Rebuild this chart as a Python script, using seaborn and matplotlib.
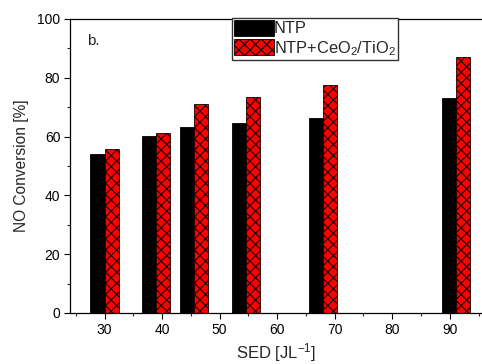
import matplotlib
matplotlib.use("Agg")
import matplotlib.pyplot as plt
import seaborn as sns
import pandas as pd
from matplotlib.patches import Patch
from matplotlib.ticker import MultipleLocator

# Specific energy density (J/L) and NO conversion (%) for each configuration
sed = [30, 39, 45.5, 54.6, 68, 91]
ntp = [54.1, 60.2, 63.4, 64.6, 66.2, 73.2]
ntp_cat = [55.7, 61.1, 71.0, 73.5, 77.6, 87.2]
series = ["NTP", "NTP+CeO$_2$/TiO$_2$"]

df = pd.DataFrame({
    "sed": sed * 2,
    "conv": ntp + ntp_cat,
    "series": [series[0]] * len(sed) + [series[1]] * len(sed),
})

sns.set_style("ticks")
plt.rcParams["font.family"] = ["Liberation Sans", "DejaVu Sans"]
plt.rcParams["mathtext.fontset"] = "custom"
plt.rcParams["mathtext.rm"] = "Liberation Sans"
plt.rcParams["mathtext.it"] = "Liberation Sans:italic"
plt.rcParams["hatch.linewidth"] = 0.8
plt.rcParams["hatch.color"] = "black"

fig = plt.figure(figsize=(4.82, 3.64), dpi=100)
ax = fig.add_axes([70 / 482, 51 / 364, 412 / 482, 294 / 364])

sns.barplot(data=df, x="sed", y="conv", hue="series", native_scale=True,
            width=0.75, palette=["black", "#ff0000"], saturation=1,
            edgecolor="black", linewidth=0.6, legend=False, ax=ax)

for bar in ax.containers[1]:
    bar.set_hatch("xxx")
    bar.set_edgecolor("#1a0000")

ax.set_xlim(24, 95.6)
ax.set_ylim(0, 100)
ax.xaxis.set_major_locator(MultipleLocator(10))
ax.xaxis.set_minor_locator(MultipleLocator(5))
ax.yaxis.set_major_locator(MultipleLocator(20))
ax.yaxis.set_minor_locator(MultipleLocator(10))
ax.tick_params(axis="both", which="major", direction="out", length=4,
               width=0.8, labelsize=10, colors="black", pad=3)
ax.tick_params(axis="both", which="minor", direction="out", length=2.5,
               width=0.8)

for side in ["left", "bottom", "top"]:
    ax.spines[side].set_visible(True)
    ax.spines[side].set_linewidth(0.9)
    ax.spines[side].set_color("black")
ax.spines["right"].set_visible(False)

ax.set_xlabel("SED [JL$^{-1}$]", fontsize=12, labelpad=3)
ax.set_ylabel("NO Conversion [%]", fontsize=11.2, labelpad=6)

fig.text(87 / 482, 1 - 45 / 364, "b.", fontsize=11)

handles = [
    Patch(facecolor="black", edgecolor="black", linewidth=0.6),
    Patch(facecolor="#ff0000", edgecolor="black", linewidth=0.6, hatch="xxx"),
]
leg = fig.legend(handles, series, loc="upper left",
                 bbox_to_anchor=(232 / 482, 1 - 17.5 / 364),
                 fontsize=11.8, frameon=True, fancybox=False,
                 edgecolor="#333333", framealpha=1,
                 handlelength=2.4, handleheight=1.1, handletextpad=0.0,
                 labelspacing=0.15, borderpad=0.15, borderaxespad=0)
leg.get_frame().set_linewidth(1.0)

fig.savefig("out.png", dpi=100)
